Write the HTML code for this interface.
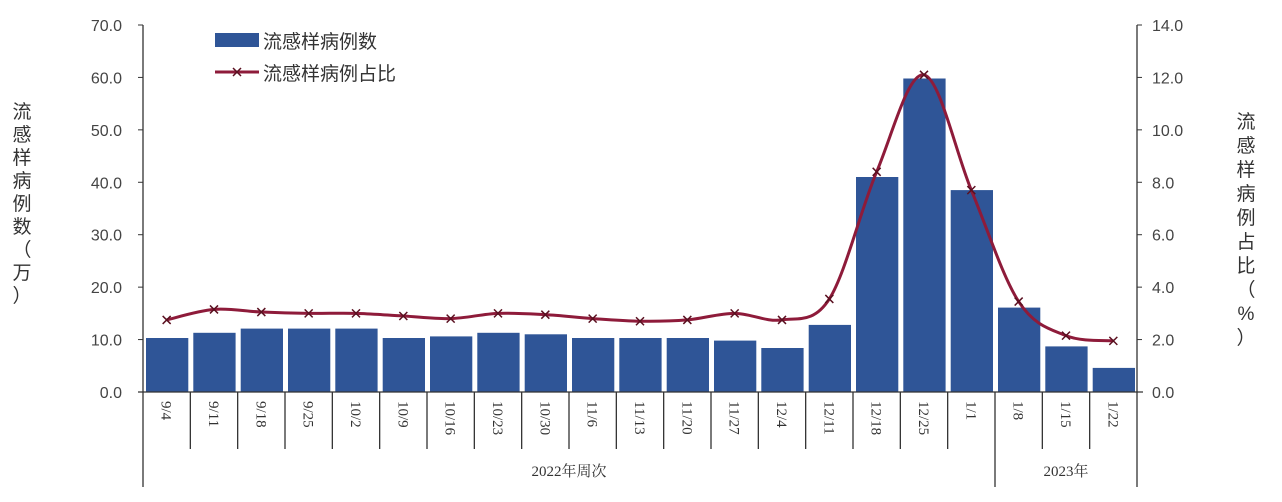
<!DOCTYPE html>
<html><head><meta charset="utf-8"><style>
html,body{margin:0;padding:0;background:#fff;}
svg{display:block;}
text{font-family:"Liberation Serif","Noto Serif CJK SC",serif;fill:#333;}
.cj{font-family:"Liberation Sans","Noto Sans CJK SC",sans-serif;}
.tk{font-family:"Liberation Sans",sans-serif;fill:#444;}
</style></head><body>
<svg id="s" width="1282" height="502" xmlns="http://www.w3.org/2000/svg"></svg>
<script>
const s=document.getElementById('s');
let h='';
const X0=143,X1=1137,Y0=392,PX=5.243;
const n=21,cw=(X1-X0)/n;
const cats=['9/4','9/11','9/18','9/25','10/2','10/9','10/16','10/23','10/30','11/6','11/13','11/20','11/27','12/4','12/11','12/18','12/25','1/1','1/8','1/15','1/22'];
const bars=[10.3,11.3,12.1,12.1,12.1,10.3,10.6,11.3,11.0,10.3,10.3,10.3,9.8,8.4,12.8,41.0,59.8,38.5,16.1,8.7,4.6];
const pct=[2.75,3.15,3.05,3.0,3.0,2.9,2.8,3.0,2.95,2.8,2.7,2.75,3.0,2.75,3.55,8.4,12.1,7.7,3.45,2.15,1.95];
for(let i=0;i<=7;i++){const y=Y0-i*10*PX;
h+=`<text class="tk" x="122" y="${y+6}" font-size="16" text-anchor="end">${(i*10).toFixed(1)}</text>`;
h+=`<line x1="${X0-5}" x2="${X0}" y1="${y}" y2="${y}" stroke="#333"/>`;
h+=`<text class="tk" x="1152" y="${y+6}" font-size="16">${(i*2).toFixed(1)}</text>`;
h+=`<line x1="${X1}" x2="${X1+5}" y1="${y}" y2="${y}" stroke="#333"/>`;}
bars.forEach((v,i)=>{const x=X0+i*cw+3;h+=`<rect x="${x.toFixed(1)}" y="${(Y0-v*PX).toFixed(1)}" width="${(cw-5).toFixed(1)}" height="${(v*PX).toFixed(1)}" fill="#2F5597"/>`;});
h+=`<line x1="${X0}" x2="${X0}" y1="25" y2="487" stroke="#333" stroke-width="1.3"/>`;
h+=`<line x1="${X1}" x2="${X1}" y1="25" y2="487" stroke="#333" stroke-width="1.3"/>`;
h+=`<line x1="${X0-5}" x2="${X1+6}" y1="${Y0}" y2="${Y0}" stroke="#333" stroke-width="1.3"/>`;
for(let i=1;i<n;i++){const x=X0+i*cw;h+=`<line x1="${x}" x2="${x}" y1="${Y0}" y2="${i==18?487:449}" stroke="#333" stroke-width="1.3"/>`;}
cats.forEach((c,i)=>{const x=X0+(i+0.5)*cw;h+=`<text transform="translate(${x-5},${Y0+9}) rotate(90)" font-size="15">${c}</text>`;});
h+=`<text x="${X0+9*cw}" y="476" font-size="15" text-anchor="middle">2022年周次</text>`;
h+=`<text x="${X0+19.5*cw}" y="476" font-size="15" text-anchor="middle">2023年</text>`;
const pts=pct.map((v,i)=>[X0+(i+0.5)*cw,Y0-v*PX*5]);
let d=`M${pts[0][0]},${pts[0][1]}`;
for(let i=0;i<pts.length-1;i++){const p0=pts[Math.max(0,i-1)],p1=pts[i],p2=pts[i+1],p3=pts[Math.min(pts.length-1,i+2)];
const t=6;d+=` C${p1[0]+(p2[0]-p0[0])/t},${p1[1]+(p2[1]-p0[1])/t} ${p2[0]-(p3[0]-p1[0])/t},${p2[1]-(p3[1]-p1[1])/t} ${p2[0]},${p2[1]}`;}
h+=`<path d="${d}" fill="none" stroke="#8E1B3A" stroke-width="3"/>`;
pts.forEach(p=>{h+=`<path d="M${p[0]-4},${p[1]-4}L${p[0]+4},${p[1]+4}M${p[0]-4},${p[1]+4}L${p[0]+4},${p[1]-4}" stroke="#5a1020" stroke-width="1.5"/>`;});
h+=`<rect x="215" y="33" width="44" height="14" fill="#2F5597"/>`;
h+=`<text x="263" y="48" font-size="19" class="cj">流感样病例数</text>`;
h+=`<line x1="215" x2="259" y1="72" y2="72" stroke="#8E1B3A" stroke-width="3"/>`;
h+=`<path d="M233,68L241,76M233,76L241,68" stroke="#5a1020" stroke-width="1.5"/>`;
h+=`<text x="263" y="80" font-size="19" class="cj">流感样病例占比</text>`;
const lt='流感样病例数（万）';[...lt].forEach((c,i)=>{h+=`<text x="22" y="${118+i*23}" font-size="19" text-anchor="middle" class="cj">${c}</text>`;});
const rt='流感样病例占比（%）';[...rt].forEach((c,i)=>{h+=`<text x="1246" y="${128+i*24}" font-size="19" text-anchor="middle" class="cj">${c}</text>`;});
s.innerHTML=h;
</script>
</body></html>
